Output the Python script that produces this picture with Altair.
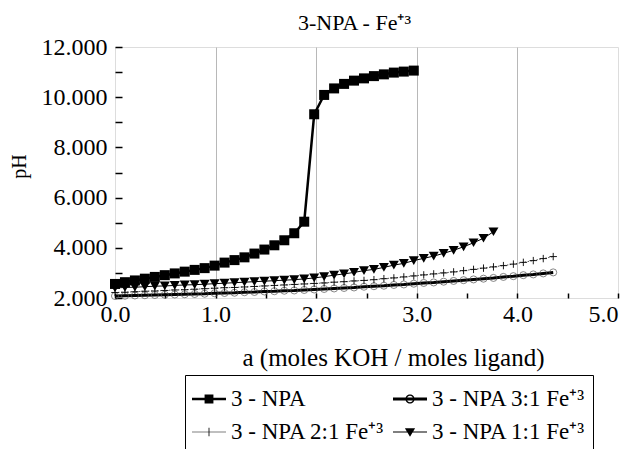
import altair as alt
import pandas as pd

FONT = "Liberation Serif"

SERIES = ["3 - NPA", "3 - NPA 3:1 Fe⁺³", "3 - NPA 2:1 Fe⁺³", "3 - NPA 1:1 Fe⁺³"]

A_NPA = [0.000, 0.099, 0.198, 0.297, 0.396, 0.495, 0.594, 0.693, 0.792, 0.891,
         0.990, 1.089, 1.188, 1.287, 1.386, 1.485, 1.584, 1.683, 1.782, 1.881,
         1.980, 2.079, 2.178, 2.277, 2.376, 2.475, 2.574, 2.673, 2.772, 2.871, 2.970]
PH_NPA = [2.56, 2.63, 2.70, 2.77, 2.84, 2.91, 2.98, 3.05, 3.12, 3.19,
          3.29, 3.41, 3.51, 3.62, 3.77, 3.93, 4.10, 4.30, 4.58, 5.04,
          9.32, 10.09, 10.35, 10.53, 10.66, 10.75, 10.84, 10.91, 10.98, 11.02, 11.06]

A_11 = [0.000, 0.099, 0.198, 0.297, 0.396, 0.495, 0.594, 0.693, 0.792, 0.891,
        0.990, 1.089, 1.188, 1.287, 1.386, 1.485, 1.584, 1.683, 1.782, 1.881,
        1.980, 2.079, 2.178, 2.277, 2.376, 2.475, 2.574, 2.673, 2.772, 2.871,
        2.970, 3.069, 3.168, 3.267, 3.366, 3.465, 3.564, 3.663, 3.762]
PH_11 = [2.40, 2.42, 2.43, 2.45, 2.47, 2.48, 2.50, 2.52, 2.53, 2.55,
         2.57, 2.59, 2.61, 2.63, 2.65, 2.67, 2.69, 2.71, 2.73, 2.76,
         2.80, 2.85, 2.91, 2.96, 3.02, 3.09, 3.14, 3.22, 3.31, 3.38,
         3.49, 3.58, 3.67, 3.78, 3.90, 4.04, 4.20, 4.38, 4.64]

A_21 = [0.000, 0.099, 0.198, 0.297, 0.396, 0.495, 0.594, 0.693, 0.792, 0.891,
        0.990, 1.089, 1.188, 1.287, 1.386, 1.485, 1.584, 1.683, 1.782, 1.881,
        1.980, 2.079, 2.178, 2.277, 2.376, 2.475, 2.574, 2.673, 2.772, 2.871,
        2.970, 3.069, 3.168, 3.267, 3.366, 3.465, 3.564, 3.663, 3.762, 3.861,
        3.960, 4.059, 4.158, 4.257, 4.356]
PH_21 = [2.22, 2.23, 2.25, 2.27, 2.28, 2.30, 2.32, 2.33, 2.35, 2.37,
         2.39, 2.41, 2.42, 2.44, 2.46, 2.48, 2.50, 2.52, 2.54, 2.56,
         2.58, 2.60, 2.63, 2.65, 2.68, 2.70, 2.73, 2.77, 2.80, 2.84,
         2.88, 2.92, 2.96, 3.00, 3.04, 3.09, 3.14, 3.19, 3.24, 3.29,
         3.35, 3.42, 3.49, 3.57, 3.65]

A_31 = list(A_21)
PH_31 = [2.08, 2.09, 2.10, 2.11, 2.12, 2.13, 2.14, 2.15, 2.16, 2.17,
         2.19, 2.20, 2.21, 2.23, 2.24, 2.26, 2.27, 2.29, 2.30, 2.32,
         2.34, 2.36, 2.38, 2.40, 2.42, 2.45, 2.47, 2.49, 2.52, 2.54,
         2.57, 2.60, 2.62, 2.65, 2.68, 2.71, 2.74, 2.77, 2.80, 2.84,
         2.87, 2.91, 2.94, 2.98, 3.02]

X_TICKS = [0, 0.5, 1, 1.5, 2, 2.5, 3, 3.5, 4, 4.5, 5]
Y_TICKS = [2, 3, 4, 5, 6, 7, 8, 9, 10, 11, 12]


def frame(a, ph, name):
    return pd.DataFrame({"a": a, "pH": ph, "series": name})


d_npa = frame(A_NPA, PH_NPA, SERIES[0])
d_31 = frame(A_31, PH_31, SERIES[1])
d_21 = frame(A_21, PH_21, SERIES[2])
d_11 = frame(A_11, PH_11, SERIES[3])
d_all = pd.concat([d_npa, d_31, d_21, d_11], ignore_index=True)

x_enc = alt.X(
    "a:Q",
    scale=alt.Scale(domain=[0, 5], nice=False, zero=False),
    axis=alt.Axis(
        title="a (moles KOH / moles ligand)",
        values=X_TICKS,
        labelExpr="datum.value % 1 == 0 ? format(datum.value, '.1f') : ''",
        labelAlign={"condition": {"test": "datum.value == 5", "value": "right"}, "value": "center"},
        grid=True,
        gridColor={"condition": {"test": "datum.value % 1 == 0 && datum.value > 0 && datum.value < 5",
                                 "value": "#b8b8b8"}, "value": "transparent"},
        gridWidth=1,
        tickSize={"expr": "-5"},
        tickColor="black",
        tickWidth=1.5,
        labelPadding=9,
        domain=False,
        labelFont=FONT, labelFontSize=24, labelColor="black",
        titleFont=FONT, titleFontSize=25, titleFontWeight="normal", titleColor="black",
        titlePadding=19,
        titleX=278,
        titleAlign="center",
    ),
)
y_enc = alt.Y(
    "pH:Q",
    scale=alt.Scale(domain=[2, 12], nice=False, zero=False),
    axis=alt.Axis(
        title="pH",
        values=Y_TICKS,
        labelExpr="datum.value % 2 == 0 ? format(datum.value, '.3f') : ''",
        grid=False,
        tickSize={"expr": "-7"},
        tickColor="black",
        tickWidth=1.5,
        labelPadding=15,
        domain=False,
        labelFont=FONT, labelFontSize=24, labelColor="black",
        titleFont=FONT, titleFontSize=20, titleFontWeight="normal", titleColor="black",
        titlePadding=12,
        titleY=119,
    ),
)

base_npa = alt.Chart(d_npa).encode(x=x_enc, y=y_enc)
base_31 = alt.Chart(d_31).encode(x=x_enc, y=y_enc)
base_21 = alt.Chart(d_21).encode(x=x_enc, y=y_enc)
base_11 = alt.Chart(d_11).encode(x=x_enc, y=y_enc)

PLUS = "M-1,0H1M0,-1V1"

layers = [
    base_31.mark_line(color="black", strokeWidth=3),
    base_31.mark_point(shape="circle", filled=False, stroke="#555", strokeWidth=0.7, size=50, opacity=1),
    base_21.mark_line(color="#555", strokeWidth=1, strokeDash=[1.5, 1.5]),
    base_21.mark_point(shape=PLUS, filled=False, stroke="black", strokeWidth=0.9, size=55, opacity=1),
    base_11.mark_line(color="black", strokeWidth=1),
    base_11.mark_point(shape="triangle-down", filled=True, color="black", size=100, opacity=1),
    base_npa.mark_line(color="black", strokeWidth=2.5),
    base_npa.mark_point(shape="square", filled=True, color="black", size=100, opacity=1),
]

LEG_NPA = "M-1,-0.07H1V0.07H-1Z M-0.26,-0.26H0.26V0.26H-0.26Z"
LEG_31 = ("M-1,-0.09H1V0.09H-1Z "
          "M-0.27,0A0.27,0.27 0 1,1 0.27,0A0.27,0.27 0 1,1 -0.27,0Z "
          "M-0.19,0A0.19,0.19 0 1,0 0.19,0A0.19,0.19 0 1,0 -0.19,0Z")
LEG_21 = "M-1,-0.015H1V0.015H-1Z M-0.025,-0.25H0.025V0.25H-0.025Z M-0.2,-0.02H0.2V0.02H-0.2Z"
LEG_11 = "M-1,-0.03H1V0.03H-1Z M-0.3,-0.22H0.3L0,0.28Z"

legend_layer = alt.Chart(d_all).mark_point(filled=True, color="black", opacity=0).encode(
    x=x_enc,
    y=y_enc,
    shape=alt.Shape(
        "series:N",
        scale=alt.Scale(domain=SERIES, range=[LEG_NPA, LEG_31, LEG_21, LEG_11]),
        sort=SERIES,
        legend=alt.Legend(
            title=None,
            orient="none",
            legendX=70,
            legendY=328,
            direction="horizontal",
            columns=2,
            labelFont=FONT,
            labelFontSize=23,
            labelColor="black",
            labelOffset=5,
            symbolSize=1156,
            symbolOpacity=1,
            symbolStrokeWidth=0,
            symbolFillColor="black",
            columnPadding=8,
            rowPadding=4,
            padding=7,
            strokeColor="black",
            fillColor="white",
        ),
    ),
)

chart = alt.layer(*layers, legend_layer).properties(
    width=503,
    height=251,
    title=alt.TitleParams(text="3-NPA - Fe⁺³", font=FONT, fontSize=22, fontWeight="normal",
                          color="black", offset=0, anchor="middle", dx=-12),
    autosize=alt.AutoSizeParams(type="none"),
    padding={"left": 115, "top": 47, "right": 7, "bottom": 151},
).configure_view(stroke="black", strokeWidth=2).configure(background="white")

chart.save("out.html", embed_options={"renderer": "svg", "actions": False})
